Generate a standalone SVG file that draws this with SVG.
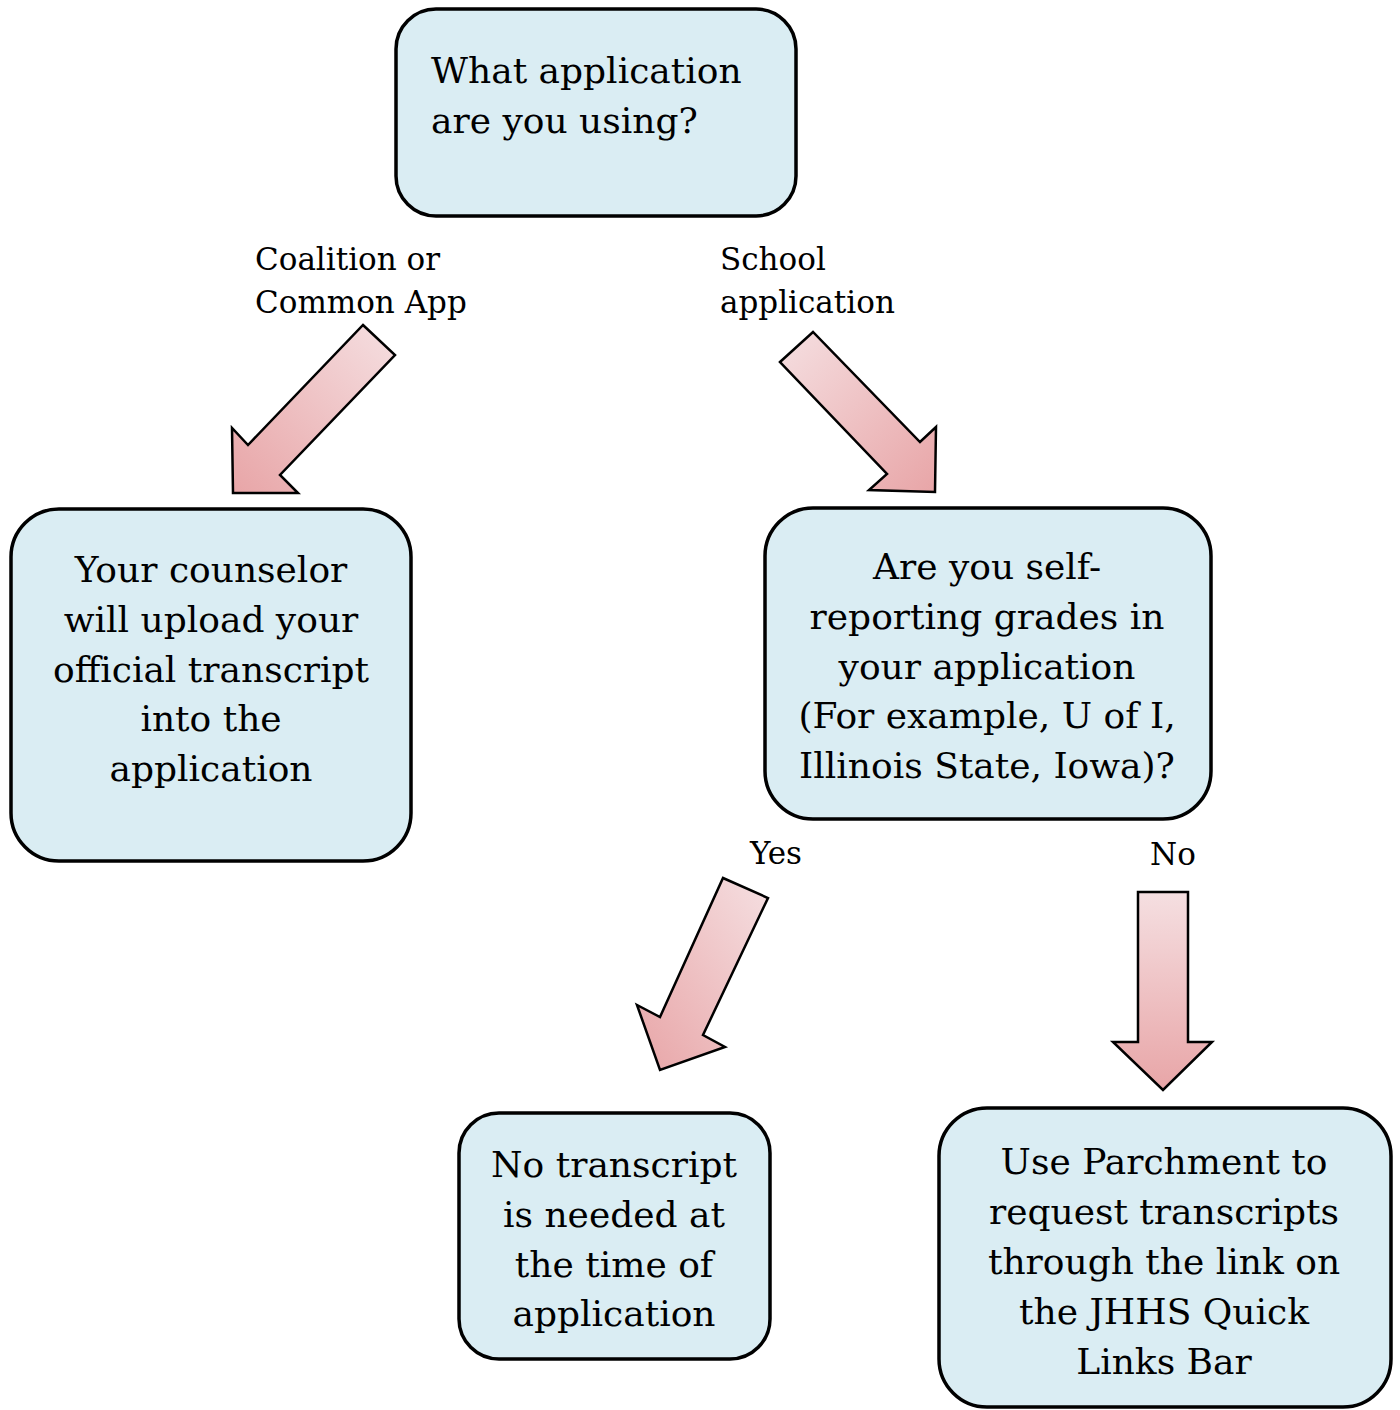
<svg xmlns="http://www.w3.org/2000/svg" width="1400" height="1410" viewBox="0 0 1400 1410">
<style>
.box{fill:#daedf3;stroke:#000;stroke-width:3.5}
.t{font-family:"DejaVu Serif","Liberation Serif",serif;font-size:36px;fill:#000}
.c{text-anchor:middle}
.lbl{font-family:"DejaVu Serif","Liberation Serif",serif;font-size:31px;fill:#000}
.arr{stroke:#000;stroke-width:2.5;stroke-linejoin:miter}
</style>
<defs>
<linearGradient id="gL" x1="1" y1="0" x2="0" y2="1"><stop offset="0" stop-color="#f5dfe1"/><stop offset="1" stop-color="#e8a5a7"/></linearGradient>
<linearGradient id="gR" x1="0" y1="0" x2="1" y2="1"><stop offset="0" stop-color="#f5dfe1"/><stop offset="1" stop-color="#e8a5a7"/></linearGradient>
<linearGradient id="gD" x1="0" y1="0" x2="0" y2="1"><stop offset="0" stop-color="#f5dfe1"/><stop offset="1" stop-color="#e8a5a7"/></linearGradient>
</defs>
<g id="connectors">
<polygon class="arr" fill="url(#gL)" points="363,325 395,355 280,475 298,493 233,493 232,428 248,445"/>
<polygon class="arr" fill="url(#gR)" points="780,362 813,332 920,442 936,427 935,492 869,490 887,474"/>
<polygon class="arr" fill="url(#gL)" points="723,878 768,898 703,1035 725,1047 660,1070 637,1005 660,1017"/>
<polygon class="arr" fill="url(#gD)" points="1138,892 1188,892 1188,1042 1212,1042 1163,1090 1113,1042 1138,1042"/>
<text class="lbl" x="255" y="270">Coalition or</text>
<text class="lbl" x="255" y="313">Common App</text>
<text class="lbl" x="720" y="270">School</text>
<text class="lbl" x="720" y="313">application</text>
<text class="lbl" x="750" y="864">Yes</text>
<text class="lbl" x="1150" y="865">No</text>
</g>
<g id="n1">
<rect class="box" x="396" y="9" width="400" height="207" rx="40"/>
<text class="t" x="431" y="83">What application</text>
<text class="t" x="431" y="133">are you using?</text>
</g>
<g id="n2">
<rect class="box" x="11" y="509" width="400" height="352" rx="48"/>
<text class="t c" x="211" y="582">Your counselor</text>
<text class="t c" x="211" y="632">will upload your</text>
<text class="t c" x="211" y="682">official transcript</text>
<text class="t c" x="211" y="731">into the</text>
<text class="t c" x="211" y="781">application</text>
</g>
<g id="n3">
<rect class="box" x="765" y="508" width="446" height="311" rx="48"/>
<text class="t c" x="987" y="579">Are you self-</text>
<text class="t c" x="987" y="629">reporting grades in</text>
<text class="t c" x="987" y="679">your application</text>
<text class="t c" x="987" y="728">(For example, U of I,</text>
<text class="t c" x="987" y="778">Illinois State, Iowa)?</text>
</g>
<g id="n4">
<rect class="box" x="459" y="1113" width="311" height="246" rx="40"/>
<text class="t c" x="614" y="1177">No transcript</text>
<text class="t c" x="614" y="1227">is needed at</text>
<text class="t c" x="614" y="1277">the time of</text>
<text class="t c" x="614" y="1326">application</text>
</g>
<g id="n5">
<rect class="box" x="939" y="1108" width="452" height="299" rx="48"/>
<text class="t c" x="1164" y="1174">Use Parchment to</text>
<text class="t c" x="1164" y="1224">request transcripts</text>
<text class="t c" x="1164" y="1274">through the link on</text>
<text class="t c" x="1164" y="1324">the JHHS Quick</text>
<text class="t c" x="1164" y="1374">Links Bar</text>
</g>
</svg>
